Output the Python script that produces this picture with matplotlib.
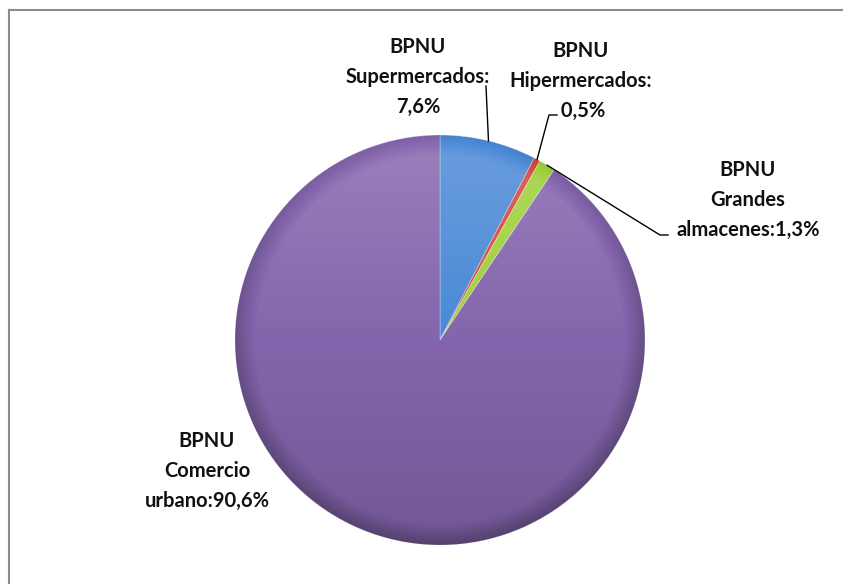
import numpy as np
import matplotlib
matplotlib.use("Agg")
import matplotlib.pyplot as plt
from matplotlib.patches import Circle
from matplotlib.lines import Line2D

# data
categories = ["Supermercados", "Hipermercados", "Grandes\nalmacenes", "Comercio\nurbano"]
values = [7.6, 0.5, 1.3, 90.6]
value_labels = ["7,6%", "0,5%", "1,3%", "90,6%"]
colors = ["#4a89d6", "#d2473f", "#9fd03c", "#8465ad"]

W, H = 843, 584
CX, CY, R = 440, 340, 205


def Y(py):
    # pixel row -> data y (axis is not inverted so the pie keeps its direction)
    return H - py


fig = plt.figure(figsize=(W / 100, H / 100), dpi=100)
ax = fig.add_axes([0, 0, 1, 1])

wedges, _ = ax.pie(values, colors=colors, startangle=90, counterclock=False,
                   center=(CX, Y(CY)), radius=R,
                   wedgeprops=dict(linewidth=0.6, edgecolor=(1, 1, 1, 0.35)))

# soft shading: lighter top, darker bottom and rim
n = 400
yy, xx = np.mgrid[-1:1:n * 1j, -1:1:n * 1j]
rr = np.sqrt(xx ** 2 + yy ** 2)
shade = np.zeros((n, n, 4))
top = np.clip(-yy, 0, 1)
bot = np.clip(yy, 0, 1)
rim = np.clip((rr - 0.9) / 0.1, 0, 1)
light = 0.18 * top
dark = 0.14 * bot + 0.22 * rim
shade[..., :3] = np.where((light > dark)[..., None], 1.0, 0.0)
shade[..., 3] = np.abs(light - dark)
img = ax.imshow(shade, extent=(CX - R, CX + R, Y(CY + R), Y(CY - R)),
                origin="upper", zorder=3, interpolation="bilinear")
clip = Circle((CX, Y(CY)), R, transform=ax.transData)
img.set_clip_path(clip)

# pie and imshow reset the limits, so set them afterwards
ax.set_xlim(0, W)
ax.set_ylim(0, H)
ax.set_aspect("equal")
ax.axis("off")

# label anchors on the wedge edges at the middle angle
def anchor(i):
    w = wedges[i]
    mid = np.deg2rad((w.theta1 + w.theta2) / 2)
    return CX + R * np.cos(mid), Y(CY) + R * np.sin(mid)

font = dict(family=["Lato", "DejaVu Sans"], fontsize=14.5,
            weight="bold", ha="center", va="center", color="#111111",
            linespacing=1.6, zorder=5)

# Supermercados
ax.text(418, Y(77), "BPNU\n" + categories[0] + ":\n" + value_labels[0], **font)
a0 = anchor(0)
ax.plot([a0[0], 486], [a0[1], Y(86)], color="black", lw=1, zorder=5)

# Hipermercados
ax.text(581, Y(81), "BPNU\n" + categories[1] + ":\n " + value_labels[1], **font)
a1 = anchor(1)
ax.plot([a1[0], 549, 557], [a1[1], Y(115), Y(115)], color="black", lw=1, zorder=5)

# Grandes almacenes
lab2 = categories[2].split("\n")
ax.text(748, Y(200), "BPNU\n" + lab2[0] + "\n" + lab2[1] + ":" + value_labels[2], **font)
a2 = anchor(2)
ax.plot([a2[0], 660, 668], [a2[1], Y(235), Y(235)], color="black", lw=1, zorder=5)

# Comercio urbano (no leader)
lab3 = categories[3].split("\n")
ax.text(207, Y(471), "BPNU\n" + lab3[0] + "\n" + lab3[1] + ":" + value_labels[3], **font)

# chart frame (right and bottom edges fall outside the picture)
fig.add_artist(Line2D([9 / W, 1], [1 - 10 / H, 1 - 10 / H], color="#8c8c8c", lw=1.5))
fig.add_artist(Line2D([9 / W, 9 / W], [0, 1 - 10 / H], color="#8c8c8c", lw=1.5))

fig.savefig("out.png", dpi=100)
